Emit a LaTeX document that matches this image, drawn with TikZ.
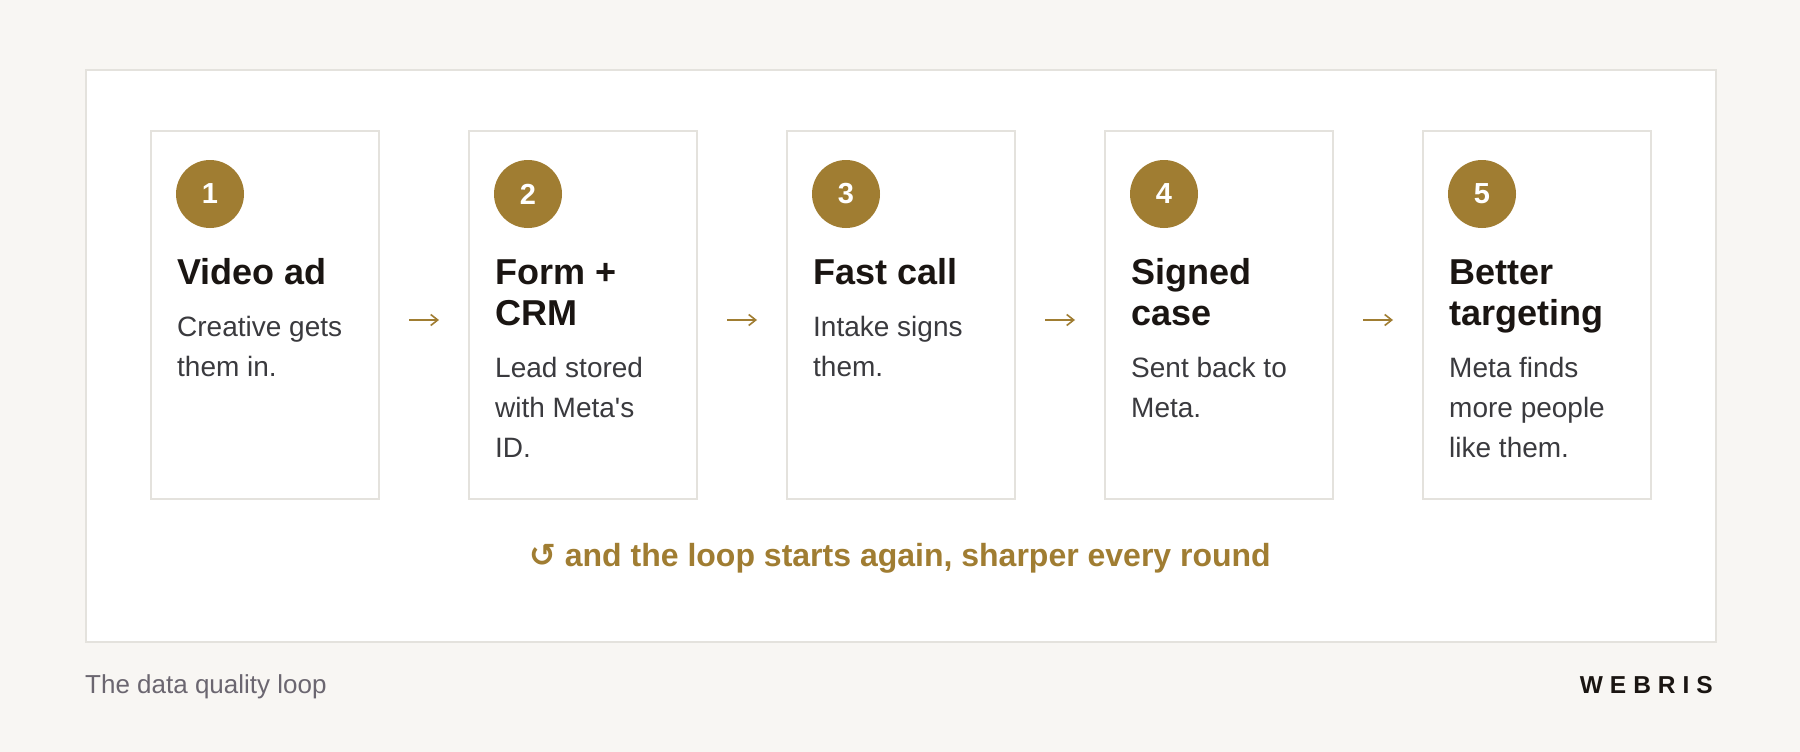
\documentclass[tikz,border=0pt]{standalone}
\usepackage{fontspec}
\setmainfont{Liberation Sans}
\newfontfamily\symfont{DejaVu Sans}
\usepackage{xcolor}
\usetikzlibrary{positioning,arrows.meta}
\definecolor{pagebg}{HTML}{F8F6F3}
\definecolor{framegray}{HTML}{E4E2DD}
\definecolor{gold}{HTML}{A07D32}
\definecolor{inkdark}{HTML}{1A1512}
\definecolor{inkbody}{HTML}{3A3A3E}
\definecolor{inkcaption}{HTML}{6B6670}

\begin{document}
\begin{tikzpicture}[x=1pt, y=1pt, node distance=90pt,
    loop frame/.style={rectangle, draw=framegray, line width=2pt, fill=white, minimum width=1630pt, minimum height=572pt, anchor=north west},
    loop card/.style={rectangle, draw=framegray, line width=2pt, fill=white, minimum width=228pt, minimum height=368pt, inner sep=0pt, outer sep=0pt},
    loop badge/.style={circle, fill=gold, minimum size=68pt, inner sep=0pt, text=white, font=\fontsize{29}{34}\selectfont\bfseries},
    loop title/.style={anchor=north west, inner sep=0pt, align=left, text=inkdark, font=\fontsize{36}{41}\selectfont\bfseries},
    loop body/.style={inner sep=0pt, align=left, text=inkbody, font=\fontsize{28}{40}\selectfont},
    loop arrow/.style={-{Straight Barb[length=7pt,width=11pt]}, line width=1.6pt, draw=gold, shorten <=30pt, shorten >=30pt}]

    % page and frame
    \fill [pagebg] (0,0) rectangle (1800,-752);
    \node [loop frame] (frame) at (85,-69) {};

    % the five steps
    \node [loop card, anchor=north west] (c1) at (151,-131) {};
    \node [loop card, right=of c1] (c2) {};
    \node [loop card, right=of c2] (c3) {};
    \node [loop card, right=of c3] (c4) {};
    \node [loop card, right=of c4] (c5) {};

    \node [loop badge] (b1) at ([xshift=59pt,yshift=-63pt]c1.north west) {1};
    \node [loop badge] (b2) at ([xshift=59pt,yshift=-63pt]c2.north west) {2};
    \node [loop badge] (b3) at ([xshift=59pt,yshift=-63pt]c3.north west) {3};
    \node [loop badge] (b4) at ([xshift=59pt,yshift=-63pt]c4.north west) {4};
    \node [loop badge] (b5) at ([xshift=59pt,yshift=-63pt]c5.north west) {5};

    \node [loop title] (t1) at ([xshift=26pt,yshift=-124.3pt]c1.north west) {\strut Video ad\strut};
    \node [loop title] (t2) at ([xshift=26pt,yshift=-124.3pt]c2.north west) {\strut Form +\\CRM\strut};
    \node [loop title] (t3) at ([xshift=26pt,yshift=-124.3pt]c3.north west) {\strut Fast call\strut};
    \node [loop title] (t4) at ([xshift=26pt,yshift=-124.3pt]c4.north west) {\strut Signed\\case\strut};
    \node [loop title] (t5) at ([xshift=26pt,yshift=-124.3pt]c5.north west) {\strut Better\\targeting\strut};

    \node [loop body, below=11.7pt of t1.south west, anchor=north west] (d1) {\strut Creative gets\\them in.};
    \node [loop body, below=11.7pt of t2.south west, anchor=north west] (d2) {\strut Lead stored\\with Meta\textquotesingle s\\ID.};
    \node [loop body, below=11.7pt of t3.south west, anchor=north west] (d3) {\strut Intake signs\\them.};
    \node [loop body, below=11.7pt of t4.south west, anchor=north west] (d4) {\strut Sent back to\\Meta.};
    \node [loop body, below=11.7pt of t5.south west, anchor=north west] (d5) {\strut Meta finds\\more people\\like them.};

    \draw [loop arrow] ([yshift=-5pt]c1.east) -- ([yshift=-5pt]c2.west);
    \draw [loop arrow] ([yshift=-5pt]c2.east) -- ([yshift=-5pt]c3.west);
    \draw [loop arrow] ([yshift=-5pt]c3.east) -- ([yshift=-5pt]c4.west);
    \draw [loop arrow] ([yshift=-5pt]c4.east) -- ([yshift=-5pt]c5.west);

    \node [anchor=base, text=gold, font=\fontsize{32}{38}\selectfont\bfseries] (again) at (900,-566) {{\symfont ↺} and the loop starts again, sharper every round};

    % footer
    \node [anchor=base west, inner sep=0pt, text=inkcaption, font=\fontsize{26}{30}\selectfont] (caption) at (85,-693) {The data quality loop};
    \node [anchor=base east, inner sep=0pt, text=inkdark, font=\fontsize{24.5}{28}\selectfont\bfseries] (brand) at (1713,-693) {W\kern7pt E\kern7pt B\kern7pt R\kern7pt I\kern7pt S};
\end{tikzpicture}
\end{document}
